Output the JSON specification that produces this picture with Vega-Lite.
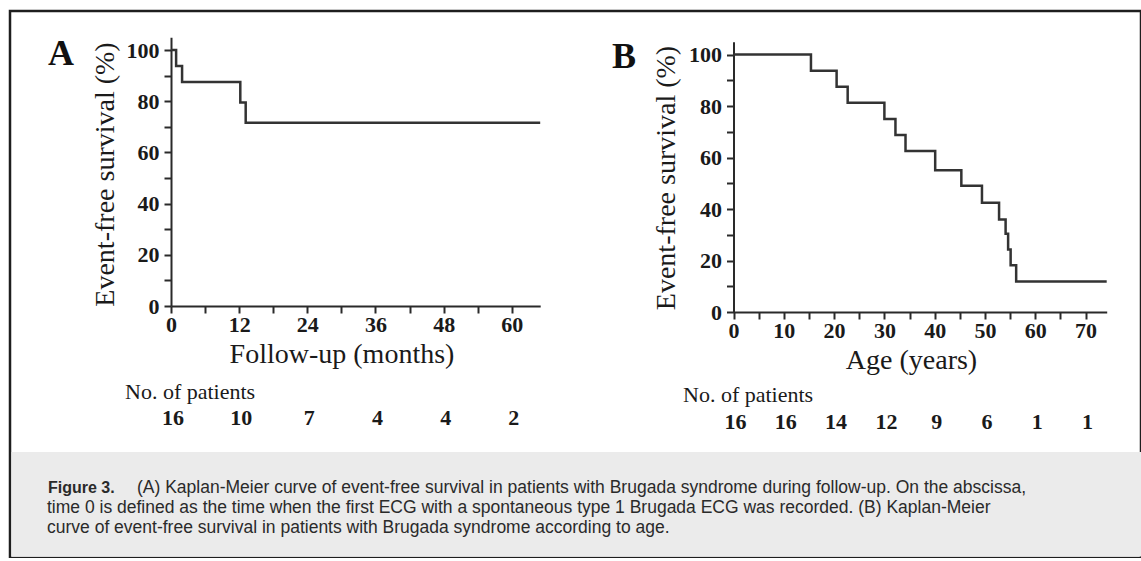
{
  "$schema": "https://vega.github.io/schema/vega-lite/v6.json",
  "width": 1131,
  "height": 547,
  "autosize": {"type": "none"},
  "padding": {"left": 10, "top": 11, "right": 0, "bottom": 0},
  "background": "white",
  "config": {
    "view": {"stroke": "#1e1e1e", "strokeWidth": 2.5},
    "axis": {
      "grid": false,
      "domainColor": "#2a2a2a", "domainWidth": 2,
      "tickColor": "#2a2a2a", "tickWidth": 2, "tickSize": 7,
      "labelFont": "Liberation Serif", "labelFontSize": 22, "labelFontWeight": "bold", "labelColor": "#1a1a1a",
      "labelFlush": false, "labelOverlap": false,
      "titleFont": "Liberation Serif", "titleFontSize": 28, "titleFontWeight": "normal", "titleColor": "#1a1a1a"
    }
  },
  "datasets": {
    "kmA": [
      {"t": 0, "s": 100}, {"t": 0.9, "s": 93.75}, {"t": 1.95, "s": 87.5},
      {"t": 12.2, "s": 79.5}, {"t": 13.15, "s": 71.6}, {"t": 65, "s": 71.6}
    ],
    "kmB": [
      {"t": 0, "s": 100}, {"t": 15.4, "s": 93.75}, {"t": 20.5, "s": 87.5}, {"t": 22.7, "s": 81.25},
      {"t": 30.0, "s": 75}, {"t": 32.2, "s": 68.75}, {"t": 34.2, "s": 62.5}, {"t": 40.1, "s": 55.1},
      {"t": 45.3, "s": 49.0}, {"t": 49.4, "s": 42.4}, {"t": 52.8, "s": 35.9}, {"t": 54.1, "s": 30.4},
      {"t": 54.6, "s": 24.3}, {"t": 55.1, "s": 18.2}, {"t": 56.2, "s": 11.8}, {"t": 74.2, "s": 11.8}
    ],
    "riskA": [
      {"t": 0, "n": 16}, {"t": 12, "n": 10}, {"t": 24, "n": 7}, {"t": 36, "n": 4}, {"t": 48, "n": 4}, {"t": 60, "n": 2}
    ],
    "riskB": [
      {"t": 0, "n": 16}, {"t": 10, "n": 16}, {"t": 20, "n": 14}, {"t": 30, "n": 12},
      {"t": 40, "n": 9}, {"t": 50, "n": 6}, {"t": 60, "n": 1}, {"t": 70, "n": 1}
    ]
  },
  "layer": [
    {
      "data": {"values": [{"part": "caption"}]},
      "mark": {"type": "rect", "color": "#ebebeb"},
      "encoding": {"x": {"value": 1.5}, "x2": {"value": 1131}, "y": {"value": 441}, "y2": {"value": 545.5}}
    },
    {
      "layer": [
        {
          "data": {"name": "kmA"},
          "mark": {"type": "line", "interpolate": "step-after", "color": "#333333", "strokeWidth": 2.5},
          "encoding": {
            "x": {
              "field": "t", "type": "quantitative",
              "scale": {"domain": [0, 65], "range": [161, 530.2], "nice": false},
              "axis": {
                "orient": "bottom", "offset": -252,
                "values": [0, 6, 12, 18, 24, 30, 36, 42, 48, 54, 60],
                "labelExpr": "datum.value % 12 === 0 ? datum.label : ''",
                "labelPadding": 1,
                "title": "Follow-up (months)", "titleX": 331.5, "titleY": 56, "titleBaseline": "alphabetic", "titleAlign": "center"
              }
            },
            "y": {
              "field": "s", "type": "quantitative",
              "scale": {"domain": [0, 105], "range": [295, 26.3], "nice": false},
              "axis": {
                "orient": "left", "offset": -161,
                "values": [0, 10, 20, 30, 40, 50, 60, 70, 80, 90, 100],
                "labelExpr": "datum.value % 20 === 0 ? datum.label : ''",
                "labelPadding": 5,
                "title": "Event-free survival (%)", "titleX": -66, "titleY": 163, "titleBaseline": "middle", "titleAlign": "center"
              }
            }
          }
        },
        {
          "data": {"name": "riskA"},
          "mark": {"type": "text", "font": "Liberation Serif", "fontWeight": "bold", "fontSize": 22, "baseline": "middle", "align": "center", "color": "#1a1a1a", "dx": 2},
          "encoding": {
            "x": {"field": "t", "type": "quantitative"},
            "y": {"value": 407},
            "text": {"field": "n", "type": "quantitative"}
          }
        }
      ]
    },
    {
      "layer": [
        {
          "data": {"name": "kmB"},
          "mark": {"type": "line", "interpolate": "step-after", "color": "#333333", "strokeWidth": 2.5},
          "encoding": {
            "x": {
              "field": "t", "type": "quantitative",
              "scale": {"domain": [0, 74.2], "range": [723.5, 1096.7], "nice": false},
              "axis": {
                "orient": "bottom", "offset": -246,
                "values": [0, 5, 10, 15, 20, 25, 30, 35, 40, 45, 50, 55, 60, 65, 70],
                "labelExpr": "datum.value % 10 === 0 ? datum.label : ''",
                "labelPadding": 1,
                "title": "Age (years)", "titleX": 901, "titleY": 56, "titleBaseline": "alphabetic", "titleAlign": "center"
              }
            },
            "y": {
              "field": "s", "type": "quantitative",
              "scale": {"domain": [0, 105], "range": [301, 30.7], "nice": false},
              "axis": {
                "orient": "left", "offset": -723.5,
                "values": [0, 10, 20, 30, 40, 50, 60, 70, 80, 90, 100],
                "labelExpr": "datum.value % 20 === 0 ? datum.label : ''",
                "labelPadding": 5,
                "title": "Event-free survival (%)", "titleX": -67, "titleY": 166.5, "titleBaseline": "middle", "titleAlign": "center"
              }
            }
          }
        },
        {
          "data": {"name": "riskB"},
          "mark": {"type": "text", "font": "Liberation Serif", "fontWeight": "bold", "fontSize": 22, "baseline": "middle", "align": "center", "color": "#1a1a1a", "dx": 2},
          "encoding": {
            "x": {"field": "t", "type": "quantitative"},
            "y": {"value": 410.7},
            "text": {"field": "n", "type": "quantitative"}
          }
        }
      ]
    },
    {
      "data": {"values": [{"label": "A"}]},
      "mark": {"type": "text", "font": "Liberation Serif", "fontWeight": "bold", "fontSize": 36, "align": "center", "baseline": "middle", "color": "#111"},
      "encoding": {"x": {"value": 51}, "y": {"value": 43}, "text": {"field": "label"}}
    },
    {
      "data": {"values": [{"label": "B"}]},
      "mark": {"type": "text", "font": "Liberation Serif", "fontWeight": "bold", "fontSize": 36, "align": "center", "baseline": "middle", "color": "#111"},
      "encoding": {"x": {"value": 614}, "y": {"value": 46}, "text": {"field": "label"}}
    },
    {
      "data": {"values": [{"label": "No. of patients"}]},
      "mark": {"type": "text", "font": "Liberation Serif", "fontSize": 22, "align": "left", "baseline": "middle", "color": "#1a1a1a"},
      "encoding": {"x": {"value": 115}, "y": {"value": 380.7}, "text": {"field": "label"}}
    },
    {
      "data": {"values": [{"label": "No. of patients"}]},
      "mark": {"type": "text", "font": "Liberation Serif", "fontSize": 22, "align": "left", "baseline": "middle", "color": "#1a1a1a"},
      "encoding": {"x": {"value": 673}, "y": {"value": 384}, "text": {"field": "label"}}
    },
    {
      "data": {"values": [{"label": "Figure 3."}]},
      "mark": {"type": "text", "font": "Liberation Sans", "fontWeight": "bold", "fontSize": 16, "align": "left", "baseline": "alphabetic", "color": "#2a2a2a"},
      "encoding": {"x": {"value": 38}, "y": {"value": 482}, "text": {"field": "label"}}
    },
    {
      "data": {"values": [{"label": "(A) Kaplan-Meier curve of event-free survival in patients with Brugada syndrome during follow-up. On the abscissa,"}]},
      "mark": {"type": "text", "font": "Liberation Sans", "fontSize": 17.5, "align": "left", "baseline": "alphabetic", "color": "#2a2a2a"},
      "encoding": {"x": {"value": 127}, "y": {"value": 482}, "text": {"field": "label"}}
    },
    {
      "data": {"values": [{"label": "time 0 is defined as the time when the first ECG with a spontaneous type 1 Brugada ECG was recorded. (B) Kaplan-Meier\ncurve of event-free survival in patients with Brugada syndrome according to age."}]},
      "mark": {"type": "text", "font": "Liberation Sans", "fontSize": 17.5, "align": "left", "baseline": "alphabetic", "color": "#2a2a2a", "lineBreak": "\n", "lineHeight": 20},
      "encoding": {"x": {"value": 37}, "y": {"value": 502}, "text": {"field": "label"}}
    }
  ],
  "resolve": {
    "scale": {"x": "independent", "y": "independent"},
    "axis": {"x": "independent", "y": "independent"}
  }
}
